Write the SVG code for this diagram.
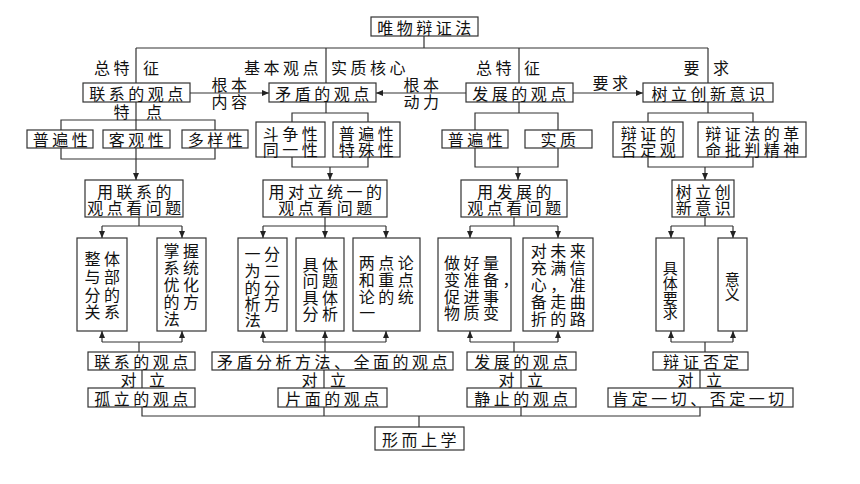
<svg xmlns="http://www.w3.org/2000/svg" width="860" height="484" viewBox="0 0 860 484">
<style>
.b{fill:#fff;stroke:#333;stroke-width:1.2}
.l{fill:none;stroke:#333;stroke-width:1.2}
.a{fill:none;stroke:#333;stroke-width:1.2;marker-end:url(#ar)}
text{font-family:"Noto Sans CJK SC","Noto Sans CJK JP",sans-serif;font-size:16px;letter-spacing:3.5px;fill:#111;dominant-baseline:central}
.c{text-anchor:middle}
.e{text-anchor:end}
.v{font-size:15px}
</style>
<defs>
<marker id="ar" markerWidth="7" markerHeight="6" refX="7" refY="3" orient="auto" markerUnits="userSpaceOnUse">
<path d="M0,0 L7,3 L0,6 z" fill="#222"/>
</marker>
</defs>
<rect width="860" height="484" fill="#fff"/>

<g id="connectors">
<path class="l" d="M424,36 V48 M136,48 H708 M136,48 V83 M326,48 V83 M519,48 V83 M708,48 V83"/>
<path class="a" d="M190,93 H269"/>
<path class="a" d="M466,93 H376"/>
<path class="a" d="M573,93 H643"/>
<path class="l" d="M136,102 V130 M61,130 V120 H215 V130 M61,148 V159 H215 V148"/>
<path class="a" d="M136,148 V180"/>
<path class="l" d="M326,102 V113 M292,122 V113 H368 V122 M292,157 V167 H368 V157"/>
<path class="a" d="M330,167 V180"/>
<path class="l" d="M519,102 V113 M475,130 V113 H558 V130 M475,148 V167 H558 V148"/>
<path class="a" d="M518,167 V180"/>
<path class="l" d="M708,102 V113 M648,122 V113 H753 V122 M648,157 V167 H753 V157"/>
<path class="a" d="M705,167 V180"/>
<path class="l" d="M139,217 V226 M102,226 H182 M102,342 H182 M139,342 V352"/>
<path class="a" d="M102,226 V238"/>
<path class="a" d="M182,226 V238"/>
<path class="a" d="M102,342 V331"/>
<path class="a" d="M182,342 V331"/>
<path class="l" d="M263,226 H386 M263,342 H386"/>
<path class="a" d="M325,217 V238"/>
<path class="a" d="M263,226 V238"/>
<path class="a" d="M386,226 V238"/>
<path class="a" d="M263,342 V331"/>
<path class="a" d="M386,342 V331"/>
<path class="a" d="M325,352 V331"/>
<path class="l" d="M514,217 V226 M470,226 H558 M470,342 H558 M514,342 V352"/>
<path class="a" d="M470,226 V238"/>
<path class="a" d="M558,226 V238"/>
<path class="a" d="M470,342 V331"/>
<path class="a" d="M558,342 V331"/>
<path class="l" d="M705,217 V226 M671,226 H733 M671,342 H733 M705,342 V352"/>
<path class="a" d="M671,226 V238"/>
<path class="a" d="M733,226 V238"/>
<path class="a" d="M671,342 V331"/>
<path class="a" d="M733,342 V331"/>
<path class="l" d="M142,370 V388 M324,370 V388 M521,370 V388 M700,370 V388"/>
<path class="l" d="M142,407 V416 H700 V407 M324,407 V416 M521,407 V416 M419,416 V427"/>
</g>

<g id="labels">
<text class="e" x="133" y="67">总特</text><text x="143" y="67">征</text>
<text class="e" x="322" y="67">基本观点</text><text x="331" y="67">实质核心</text>
<text class="e" x="515" y="67">总特</text><text x="524" y="67">征</text>
<text class="e" x="703" y="67">要</text><text x="713" y="67">求</text>
<text class="c" x="231"><tspan x="231" y="84">根本</tspan><tspan x="231" y="101">内容</tspan></text>
<text class="c" x="423"><tspan x="423" y="84">根本</tspan><tspan x="423" y="101">动力</tspan></text>
<text class="c" x="612" y="82">要求</text>
<text class="e" x="133" y="111">特</text><text x="146" y="111">点</text>
<text class="e" x="140" y="379">对</text><text x="149" y="379">立</text>
<text class="e" x="321" y="379">对</text><text x="330" y="379">立</text>
<text class="e" x="518" y="379">对</text><text x="527" y="379">立</text>
<text class="e" x="697" y="379">对</text><text x="706" y="379">立</text>
</g>

<g id="n-root"><rect class="b" x="371" y="17" width="107" height="19"/><text class="c" x="426" y="26.5">唯物辩证法</text></g>

<g id="n-lianxi"><rect class="b" x="83" y="83" width="107" height="19"/><text class="c" x="138" y="92.5">联系的观点</text></g>
<g id="n-maodun"><rect class="b" x="269" y="83" width="107" height="19"/><text class="c" x="324" y="92.5">矛盾的观点</text></g>
<g id="n-fazhan"><rect class="b" x="466" y="83" width="107" height="19"/><text class="c" x="521" y="92.5">发展的观点</text></g>
<g id="n-shuli"><rect class="b" x="643" y="83" width="130" height="19"/><text class="c" x="710" y="92.5">树立创新意识</text></g>

<g id="n-pubian1"><rect class="b" x="27" y="130" width="66" height="18"/><text class="c" x="62" y="139">普遍性</text></g>
<g id="n-keguan"><rect class="b" x="103" y="130" width="67" height="18"/><text class="c" x="138" y="139">客观性</text></g>
<g id="n-duoyang"><rect class="b" x="182" y="130" width="66" height="18"/><text class="c" x="217" y="139">多样性</text></g>

<g id="n-douzheng"><rect class="b" x="256" y="122" width="69" height="35"/><text class="c"><tspan x="292" y="132.5">斗争性</tspan><tspan x="292" y="149">同一性</tspan></text></g>
<g id="n-pubian2"><rect class="b" x="333" y="122" width="67" height="35"/><text class="c"><tspan x="368" y="132.5">普遍性</tspan><tspan x="368" y="149">特殊性</tspan></text></g>

<g id="n-pubian3"><rect class="b" x="442" y="130" width="66" height="18"/><text class="c" x="477" y="139">普遍性</text></g>
<g id="n-shizhi"><rect class="b" x="525" y="130" width="67" height="18"/><text class="c" x="560" y="139">实质</text></g>

<g id="n-foudingguan"><rect class="b" x="613" y="122" width="70" height="35"/><text class="c"><tspan x="650" y="132.5">辩证的</tspan><tspan x="650" y="149">否定观</tspan></text></g>
<g id="n-geming"><rect class="b" x="698" y="122" width="108" height="35"/><text class="c"><tspan x="754" y="132.5">辩证法的革</tspan><tspan x="754" y="149">命批判精神</tspan></text></g>

<g id="n-yong1"><rect class="b" x="85" y="180" width="98" height="37"/><text class="c"><tspan x="136" y="191">用联系的</tspan><tspan x="136" y="207">观点看问题</tspan></text></g>
<g id="n-yong2"><rect class="b" x="263" y="180" width="124" height="37"/><text class="c"><tspan x="327" y="191">用对立统一的</tspan><tspan x="327" y="207">观点看问题</tspan></text></g>
<g id="n-yong3"><rect class="b" x="461" y="180" width="106" height="37"/><text class="c"><tspan x="516" y="191">用发展的</tspan><tspan x="516" y="207">观点看问题</tspan></text></g>
<g id="n-shuli2"><rect class="b" x="672" y="180" width="62" height="37"/><text class="c"><tspan x="705" y="191">树立创</tspan><tspan x="705" y="207">新意识</tspan></text></g>

<g id="n-zhengti"><rect class="b" x="77" y="238" width="50" height="93"/>
<text class="c"><tspan x="104" y="258">整体</tspan><tspan x="104" y="276">与部</tspan><tspan x="104" y="294">分的</tspan><tspan x="104" y="311">关系</tspan></text></g>
<g id="n-zhangwo"><rect class="b" x="157" y="238" width="49" height="93"/>
<text class="c"><tspan x="183" y="250">掌握</tspan><tspan x="183" y="267">系统</tspan><tspan x="183" y="284">优化</tspan><tspan x="183" y="301">的方</tspan><tspan x="183" y="318" dx="-9.5">法</tspan></text></g>

<g id="n-yifen"><rect class="b" x="238" y="238" width="49" height="93"/>
<text class="c"><tspan x="264" y="253">一分</tspan><tspan x="264" y="270">为二</tspan><tspan x="264" y="287">的分</tspan><tspan x="264" y="303">析方</tspan><tspan x="264" y="319" dx="-9.5">法</tspan></text></g>
<g id="n-juti"><rect class="b" x="296" y="238" width="48" height="93"/>
<text class="c"><tspan x="322" y="264">具体</tspan><tspan x="322" y="280">问题</tspan><tspan x="322" y="297">具体</tspan><tspan x="322" y="313">分析</tspan></text></g>
<g id="n-liangdian"><rect class="b" x="353" y="238" width="67" height="93"/>
<text class="c"><tspan x="388" y="262">两点论</tspan><tspan x="388" y="279">和重点</tspan><tspan x="388" y="296">论的统</tspan><tspan x="388" y="312" dx="-19">一</tspan></text></g>

<g id="n-zuohao"><rect class="b" x="438" y="238" width="73" height="93"/>
<text><tspan x="444" y="262">做好量</tspan><tspan x="444" y="279">变准备，</tspan><tspan x="444" y="296">促进事</tspan><tspan x="444" y="312">物质变</tspan></text></g>
<g id="n-duiweilai"><rect class="b" x="523" y="238" width="70" height="93"/>
<text class="c"><tspan x="560" y="250">对未来</tspan><tspan x="560" y="267">充满信</tspan><tspan x="560" y="284">心，准</tspan><tspan x="560" y="301">备走曲</tspan><tspan x="560" y="318">折的路</tspan></text></g>

<g id="n-jutiyaoqiu"><rect class="b" x="656" y="238" width="28" height="93"/>
<text class="c v"><tspan x="672" y="267">具</tspan><tspan x="672" y="282">体</tspan><tspan x="672" y="297">要</tspan><tspan x="672" y="311">求</tspan></text></g>
<g id="n-yiyi"><rect class="b" x="718" y="238" width="29" height="93"/>
<text class="c v"><tspan x="734" y="278">意</tspan><tspan x="734" y="293">义</tspan></text></g>

<g id="n-lianxi2"><rect class="b" x="88" y="352" width="107" height="18"/><text class="c" x="143" y="361">联系的观点</text></g>
<g id="n-maodun2"><rect class="b" x="212" y="352" width="241" height="18"/><text class="c" x="334" y="361">矛盾分析方法、全面的观点</text></g>
<g id="n-fazhan2"><rect class="b" x="467" y="352" width="109" height="18"/><text class="c" x="523" y="361">发展的观点</text></g>
<g id="n-bianzheng"><rect class="b" x="653" y="352" width="95" height="18"/><text class="c" x="703" y="361" style="letter-spacing:4px">辩证否定</text></g>

<g id="n-guli"><rect class="b" x="88" y="388" width="107" height="19"/><text class="c" x="143" y="397.5">孤立的观点</text></g>
<g id="n-pianmian"><rect class="b" x="278" y="388" width="109" height="19"/><text class="c" x="334" y="397.5">片面的观点</text></g>
<g id="n-jingzhi"><rect class="b" x="467" y="388" width="109" height="19"/><text class="c" x="523" y="397.5">静止的观点</text></g>
<g id="n-kending"><rect class="b" x="608" y="388" width="185" height="19"/><text class="c" x="700" y="397.5">肯定一切、否定一切</text></g>

<g id="n-xingershang"><rect class="b" x="375" y="427" width="89" height="23"/><text class="c" x="421" y="438.5">形而上学</text></g>
</svg>
